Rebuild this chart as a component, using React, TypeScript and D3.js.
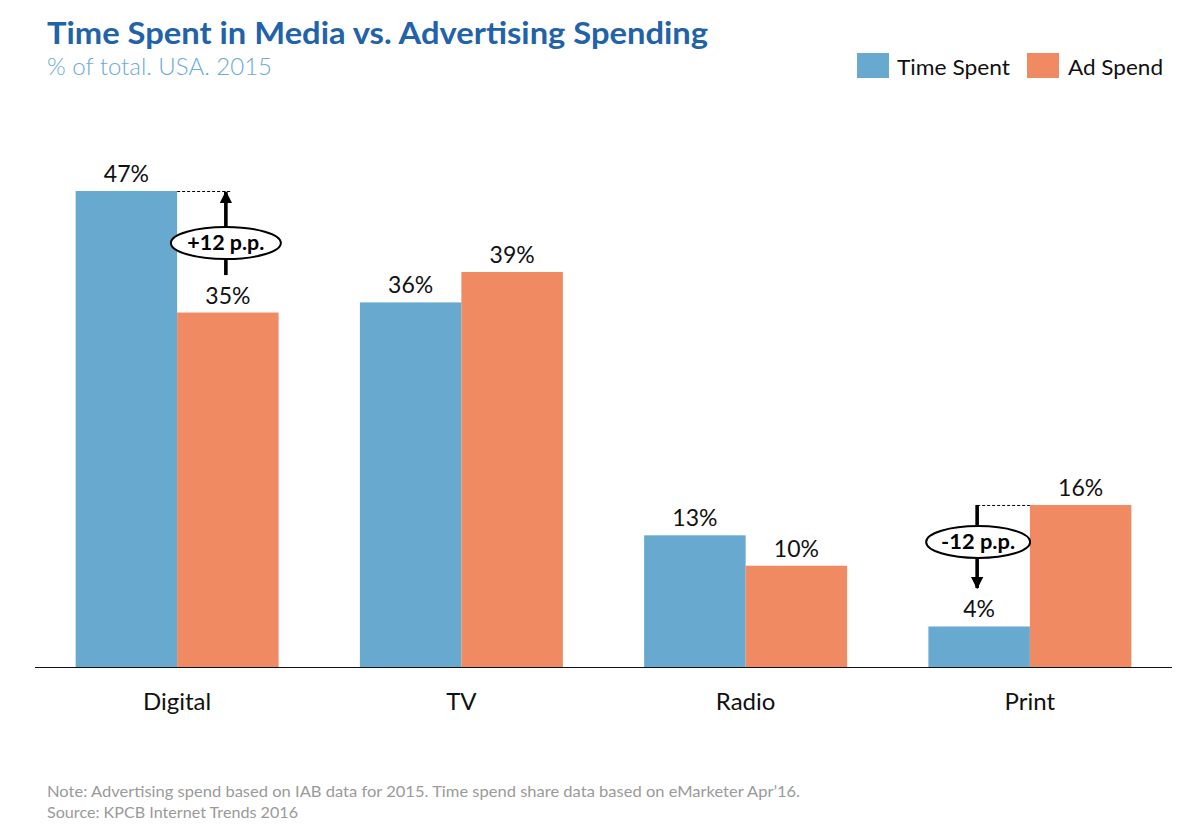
import React from "react";
import * as d3 from "d3";

const categories = ["Digital", "TV", "Radio", "Print"];
const seriesNames = ["Time Spent", "Ad Spend"];
const timeSpent = [47, 36, 13, 4];
const adSpend = [35, 39, 10, 16];
const annotationCategories = ["Digital", "Print"];
const annotationLabels = ["+12 p.p.", "-12 p.p."];
const colors = ["#67a9cf", "#ef8a62"];

// layout-only styling for the annotation bubbles
const bubbleStyle: Record<string, { rx: number; ry: number; dx: number; cy: number; tl: number }> = {
  Digital: { rx: 55, ry: 16, dx: 0, cy: 243, tl: 77 },
  Print: { rx: 52, ry: 16, dx: 1, cy: 542, tl: 74 },
};

const W = 1196;
const H = 832;
const baseY = 667;
const FONT = "Lato, 'Open Sans', sans-serif";

export default function App() {
  const x = d3
    .scaleBand<string>()
    .domain(categories)
    .range([35, 1172])
    .paddingInner(0.286)
    .paddingOuter(0.143);
  const x1 = d3.scaleBand<string>().domain(seriesNames).range([0, x.bandwidth()]).padding(0);
  const y = d3.scaleLinear().domain([0, 47]).range([baseY, 191]);
  const values = [timeSpent, adSpend];

  return (
    <svg width={W} height={H} style={{ display: "block", position: "absolute", left: 0, top: 0 }} fontFamily={FONT}>
      <defs>
        <marker id="ah" viewBox="0 0 10 10" refX="9" refY="5" markerWidth="3.6" markerHeight="3.4" orient="auto" markerUnits="strokeWidth">
          <path d="M0,0 L10,5 L0,10 z" fill="#000" />
        </marker>
      </defs>
      <rect width={W} height={H} fill="#fff" />
      <text x={47} y={44} fontSize={31} fontWeight={700} fill="#2162a8" textLength={661} lengthAdjust="spacingAndGlyphs">
        Time Spent in Media vs. Advertising Spending
      </text>
      <text x={47} y={75} fontSize={23} fontWeight={300} fill="#6aaad6" textLength={225} lengthAdjust="spacingAndGlyphs">
        % of total. USA. 2015
      </text>

      {/* legend */}
      {[
        { name: seriesNames[0], rx: 857, tx: 897, tl: 113 },
        { name: seriesNames[1], rx: 1027, tx: 1068, tl: 95 },
      ].map((l, i) => (
        <g key={l.name}>
          <rect x={l.rx} y={53} width={32} height={25} fill={colors[i]} />
          <text x={l.tx} y={75} fontSize={22} fill="#111" textLength={l.tl} lengthAdjust="spacingAndGlyphs">{l.name}</text>
        </g>
      ))}

      {/* bars */}
      {categories.map((c, ci) => (
        <g key={c} transform={`translate(${x(c)},0)`}>
          {seriesNames.map((s, si) => {
            const v = values[si][ci];
            const bx = x1(s)!;
            return (
              <g key={s}>
                <rect x={bx} y={y(v)} width={x1.bandwidth()} height={baseY - y(v)} fill={colors[si]} />
                <text x={bx + x1.bandwidth() / 2} y={y(v) - 9} fontSize={23} textAnchor="middle" fill="#111">
                  {v}%
                </text>
              </g>
            );
          })}
          <text x={x.bandwidth() / 2} y={710} fontSize={24} textAnchor="middle" fill="#111">{c}</text>
        </g>
      ))}

      {/* baseline */}
      <line x1={35} x2={1172} y1={baseY + 0.5} y2={baseY + 0.5} stroke="#111" strokeWidth={1.2} />

      {/* annotations */}
      {annotationCategories.map((cat, ai) => {
        const ci = categories.indexOf(cat);
        const t = timeSpent[ci];
        const ad = adSpend[ci];
        const hi = Math.max(t, ad);
        const lo = Math.min(t, ad);
        const lowSeries = t < ad ? seriesNames[0] : seriesNames[1];
        const hiSeries = t < ad ? seriesNames[1] : seriesNames[0];
        const ax = x(cat)! + x1(lowSeries)! + x1.bandwidth() / 2 - 2;
        const yHi = y(hi);
        const yLoEnd = y(lo + 3.7);
        const hiBarX = x(cat)! + x1(hiSeries)!;
        const dashX1 = hiSeries === seriesNames[0] ? hiBarX + x1.bandwidth() : ax;
        const dashX2 = hiSeries === seriesNames[0] ? ax + 6 : hiBarX;
        const st = bubbleStyle[cat];
        const up = t > ad;
        return (
          <g key={cat}>
            <line x1={dashX1} x2={dashX2} y1={yHi + 0.5} y2={yHi + 0.5} stroke="#000" strokeWidth={1} strokeDasharray="3,2" />
            <line
              x1={ax}
              x2={ax}
              y1={up ? yLoEnd : yHi}
              y2={up ? yHi + 1 : yLoEnd - 1}
              stroke="#000"
              strokeWidth={3.6}
              markerEnd="url(#ah)"
            />
            <ellipse cx={ax + st.dx} cy={st.cy} rx={st.rx} ry={st.ry} fill="#fff" stroke="#000" strokeWidth={2} />
            <text x={ax + st.dx} y={st.cy + 7} fontSize={21} fontWeight={700} textAnchor="middle" fill="#000"
              textLength={st.tl} lengthAdjust="spacingAndGlyphs">
              {annotationLabels[ai]}
            </text>
          </g>
        );
      })}

      <text x={47} y={797} fontSize={16} fill="#9a9a9a" textLength={753} lengthAdjust="spacingAndGlyphs">
        Note: Advertising spend based on IAB data for 2015. Time spend share data based on eMarketer Apr’16.
      </text>
      <text x={47} y={818} fontSize={16} fill="#9a9a9a" textLength={251} lengthAdjust="spacingAndGlyphs">
        Source: KPCB Internet Trends 2016
      </text>
    </svg>
  );
}
